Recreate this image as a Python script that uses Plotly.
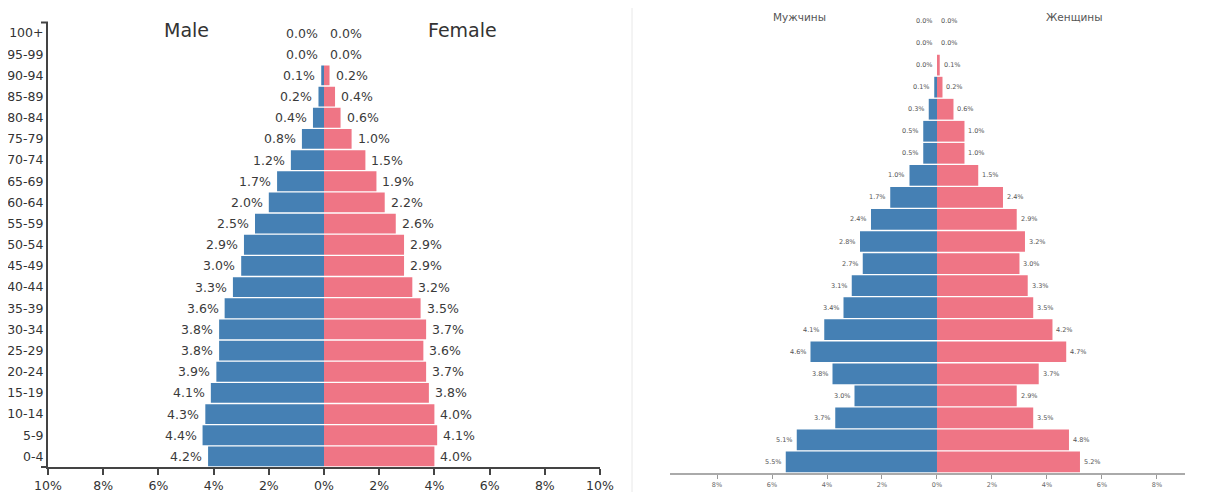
import plotly.graph_objects as go

# ---------------- data ----------------
ages = ["0-4", "5-9", "10-14", "15-19", "20-24", "25-29", "30-34", "35-39",
        "40-44", "45-49", "50-54", "55-59", "60-64", "65-69", "70-74",
        "75-79", "80-84", "85-89", "90-94", "95-99", "100+"]

male_left = [4.2, 4.4, 4.3, 4.1, 3.9, 3.8, 3.8, 3.6, 3.3, 3.0, 2.9, 2.5,
             2.0, 1.7, 1.2, 0.8, 0.4, 0.2, 0.1, 0.0, 0.0]
female_left = [4.0, 4.1, 4.0, 3.8, 3.7, 3.6, 3.7, 3.5, 3.2, 2.9, 2.9, 2.6,
               2.2, 1.9, 1.5, 1.0, 0.6, 0.4, 0.2, 0.0, 0.0]

male_right = [5.5, 5.1, 3.7, 3.0, 3.8, 4.6, 4.1, 3.4, 3.1, 2.7, 2.8, 2.4,
              1.7, 1.0, 0.5, 0.5, 0.3, 0.1, 0.0, 0.0, 0.0]
female_right = [5.2, 4.8, 3.5, 2.9, 3.7, 4.7, 4.2, 3.5, 3.3, 3.0, 3.2, 2.9,
                2.4, 1.5, 1.0, 1.0, 0.6, 0.2, 0.1, 0.0, 0.0]

left_ticks = [-10, -8, -6, -4, -2, 0, 2, 4, 6, 8, 10]
left_ticktext = ["10%", "8%", "6%", "4%", "2%", "0%", "2%", "4%", "6%", "8%", "10%"]
right_ticks = [-8, -6, -4, -2, 0, 2, 4, 6, 8]
right_ticktext = ["8%", "6%", "4%", "2%", "0%", "2%", "4%", "6%", "8%"]

titles_left = ["Male", "Female"]
titles_right = ["Мужчины", "Женщины"]

# ---------------- style ----------------
# the page body has an 8px margin, so the figure is drawn 8px in and made smaller
OFF = 8
W, H = 1207 - OFF, 492 - OFF
BLUE = "#4580B4"
PINK = "#EF7585"
FONT = "DejaVu Sans"


def px(x):
    return (x - OFF) / W


def py(y):
    return (H - (y - OFF)) / H


fig = go.Figure()

fig.add_trace(go.Bar(y=ages, x=[-v for v in male_left], orientation="h",
                     marker=dict(color=BLUE, line=dict(width=0)),
                     xaxis="x", yaxis="y", showlegend=False))
fig.add_trace(go.Bar(y=ages, x=female_left, orientation="h",
                     marker=dict(color=PINK, line=dict(width=0)),
                     xaxis="x", yaxis="y", showlegend=False))
fig.add_trace(go.Bar(y=ages, x=[-v for v in male_right], orientation="h",
                     marker=dict(color=BLUE, line=dict(width=0)),
                     xaxis="x2", yaxis="y2", showlegend=False))
fig.add_trace(go.Bar(y=ages, x=female_right, orientation="h",
                     marker=dict(color=PINK, line=dict(width=0)),
                     xaxis="x2", yaxis="y2", showlegend=False))

annotations = []
for a, m, f in zip(ages, male_left, female_left):
    annotations.append(dict(x=-m, y=a, xref="x", yref="y", text=f"{m:.1f}%",
                            showarrow=False, xanchor="right", yanchor="middle", xshift=-5,
                            borderpad=0, font=dict(family=FONT, size=12.5, color="#3a3a3a")))
    annotations.append(dict(x=f, y=a, xref="x", yref="y", text=f"{f:.1f}%",
                            showarrow=False, xanchor="left", yanchor="middle", xshift=5,
                            borderpad=0, font=dict(family=FONT, size=12.5, color="#3a3a3a")))
for a, m, f in zip(ages, male_right, female_right):
    annotations.append(dict(x=-m, y=a, xref="x2", yref="y2", text=f"{m:.1f}%",
                            showarrow=False, xanchor="right", yanchor="middle", xshift=-3,
                            borderpad=0, font=dict(family=FONT, size=6.5, color="#555")))
    annotations.append(dict(x=f, y=a, xref="x2", yref="y2", text=f"{f:.1f}%",
                            showarrow=False, xanchor="left", yanchor="middle", xshift=3,
                            borderpad=0, font=dict(family=FONT, size=6.5, color="#555")))

annotations.append(dict(x=-5, y=py(30), xref="x", yref="paper", text=titles_left[0],
                        showarrow=False, xanchor="center", yanchor="middle",
                        font=dict(family=FONT, size=19, color="#333")))
annotations.append(dict(x=5, y=py(30), xref="x", yref="paper", text=titles_left[1],
                        showarrow=False, xanchor="center", yanchor="middle",
                        font=dict(family=FONT, size=19, color="#333")))
annotations.append(dict(x=-5, y=py(17), xref="x2", yref="paper", text=titles_right[0],
                        showarrow=False, xanchor="center", yanchor="middle",
                        font=dict(family=FONT, size=10.5, color="#555")))
annotations.append(dict(x=5, y=py(17), xref="x2", yref="paper", text=titles_right[1],
                        showarrow=False, xanchor="center", yanchor="middle",
                        font=dict(family=FONT, size=10.5, color="#555")))

shapes = [
    # divider between the two charts
    dict(type="line", xref="paper", yref="paper", x0=px(632), x1=px(632), y0=0, y1=1,
         line=dict(color="#e8e8e8", width=1)),
    # outer ticks of the left y axis
    dict(type="line", xref="paper", yref="paper", x0=px(41), x1=px(48),
         y0=py(22.5), y1=py(22.5), line=dict(color="#444", width=2)),
    dict(type="line", xref="paper", yref="paper", x0=px(41), x1=px(48),
         y0=py(467), y1=py(467), line=dict(color="#444", width=2)),
]

fig.update_layout(
    width=W, height=H,
    margin=dict(l=0, r=0, t=0, b=0, autoexpand=False),
    paper_bgcolor="white", plot_bgcolor="white",
    barmode="relative", bargap=0.06,
    font=dict(family=FONT),
    xaxis=dict(domain=[px(48), px(600)], range=[-10, 10], anchor="y",
               tickvals=left_ticks, ticktext=left_ticktext, automargin=False,
               showline=True, linecolor="#444", linewidth=2,
               ticks="outside", ticklen=6, tickwidth=1.5, tickcolor="#444",
               tickfont=dict(family=FONT, size=12.5, color="#333"),
               showgrid=False, zeroline=False, fixedrange=True),
    yaxis=dict(domain=[py(467), py(22.5)], anchor="x",
               type="category", categoryorder="array", categoryarray=ages,
               range=[-0.5, len(ages) - 0.5], automargin=False,
               showline=True, linecolor="#444", linewidth=2, ticks="",
               tickfont=dict(family=FONT, size=12.5, color="#333"),
               showgrid=False, zeroline=False, fixedrange=True),
    xaxis2=dict(domain=[px(670), px(1185)], range=[-9.71, 9.02], anchor="y2",
                tickvals=right_ticks, ticktext=right_ticktext, automargin=False,
                showline=True, linecolor="#aaa", linewidth=2,
                ticks="outside", ticklen=4, tickwidth=1, tickcolor="#999",
                tickfont=dict(family=FONT, size=6.5, color="#666"),
                showgrid=False, zeroline=False, fixedrange=True),
    yaxis2=dict(domain=[py(473), py(10)], anchor="x2",
                type="category", categoryorder="array", categoryarray=ages,
                range=[-0.5, len(ages) - 0.5], automargin=False,
                showline=False, showticklabels=False, ticks="",
                showgrid=False, zeroline=False, fixedrange=True),
    annotations=annotations,
    shapes=shapes,
)

fig.write_html("out.html")
